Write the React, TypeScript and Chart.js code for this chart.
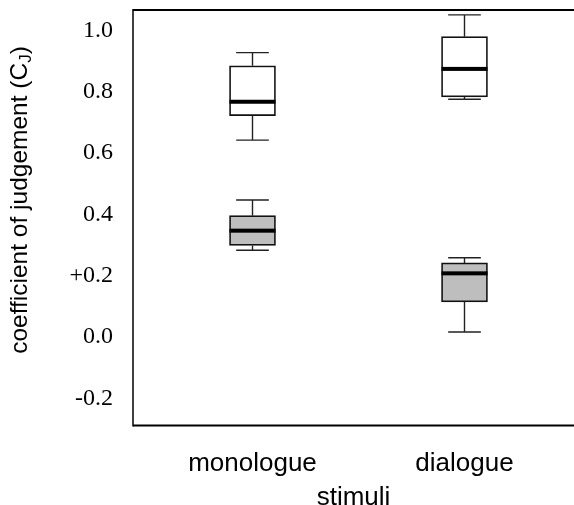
import { useEffect, useRef } from 'react';
import { Chart, registerables } from 'chart.js';

Chart.register(...registerables);

// ---- data ----
const CATEGORIES = ['monologue', 'dialogue'];
const CATEGORY_X = [1, 2];

const WHITE_MIN = [0.642, 0.775];
const WHITE_Q1 = [0.722, 0.783];
const WHITE_MEDIAN = [0.767, 0.874];
const WHITE_Q3 = [0.884, 0.979];
const WHITE_MAX = [0.927, 1.05];

const GRAY_MIN = [0.283, 0.017];
const GRAY_Q1 = [0.299, 0.115];
const GRAY_MEDIAN = [0.347, 0.208];
const GRAY_Q3 = [0.396, 0.242];
const GRAY_MAX = [0.447, 0.259];

const Y_TICKS = [-0.2, 0, 0.2, 0.4, 0.6, 0.8, 1.0];
const Y_TICK_LABELS = ['-0.2', '0.0', '+0.2', '0.4', '0.6', '0.8', '1.0'];
const Y_MIN = -0.2877;
const Y_MAX = 1.0659;
const X_MIN = 0.4363;
const X_MAX = 2.5165;

const Y_TITLE = 'coefficient of judgement (C';
const Y_TITLE_SUB = 'J';
const Y_TITLE_END = ')';
const X_TITLE = 'stimuli';

const STATS = [
  { min: GRAY_MIN, q1: GRAY_Q1, median: GRAY_MEDIAN, q3: GRAY_Q3, max: GRAY_MAX },
  { min: WHITE_MIN, q1: WHITE_Q1, median: WHITE_MEDIAN, q3: WHITE_Q3, max: WHITE_MAX },
];

const SANS = '"Liberation Sans", Arial, sans-serif';
const SERIF = '"Liberation Serif", "Times New Roman", serif';

const makeBoxes = (q1: number[], q3: number[]) =>
  CATEGORY_X.map((x, i) => ({ x, y: [q1[i], q3[i]] }));

const whiskerPlugin = {
  id: 'whiskers',
  afterDatasetsDraw(chart: any) {
    const { ctx } = chart;
    const ys = chart.scales.y;
    chart.data.datasets.forEach((_ds: any, di: number) => {
      const meta = chart.getDatasetMeta(di);
      const st = STATS[di];
      meta.data.forEach((bar: any, i: number) => {
        const { x, width } = bar.getProps(['x', 'width'], true);
        const yMin = ys.getPixelForValue(st.min[i]);
        const yQ1 = ys.getPixelForValue(st.q1[i]);
        const yMed = ys.getPixelForValue(st.median[i]);
        const yQ3 = ys.getPixelForValue(st.q3[i]);
        const yMax = ys.getPixelForValue(st.max[i]);
        const cap = width * 0.355;
        ctx.save();
        ctx.strokeStyle = '#222';
        ctx.lineWidth = 1.4;
        ctx.beginPath();
        ctx.moveTo(x, yQ3);
        ctx.lineTo(x, yMax);
        ctx.moveTo(x, yQ1);
        ctx.lineTo(x, yMin);
        ctx.moveTo(x - cap, yMax);
        ctx.lineTo(x + cap, yMax);
        ctx.moveTo(x - cap, yMin);
        ctx.lineTo(x + cap, yMin);
        ctx.stroke();
        ctx.fillStyle = '#000';
        ctx.fillRect(x - width / 2, yMed - 2, width, 4);
        ctx.restore();
      });
    });
  },
};

const framePlugin = {
  id: 'frame',
  afterDraw(chart: any) {
    const { ctx, chartArea, width } = chart;
    const { left, top, bottom } = chartArea;
    ctx.save();
    ctx.strokeStyle = '#000';
    ctx.lineWidth = 2;
    ctx.beginPath();
    ctx.moveTo(left, top);
    ctx.lineTo(width, top);
    ctx.moveTo(left, bottom);
    ctx.lineTo(width, bottom);
    ctx.stroke();
    ctx.lineWidth = 1.5;
    ctx.beginPath();
    ctx.moveTo(left, top - 1);
    ctx.lineTo(left, bottom + 1);
    ctx.stroke();
    ctx.restore();
  },
};

const yTitlePlugin = {
  id: 'yTitle',
  afterDraw(chart: any) {
    const { ctx } = chart;
    const size = 24.5;
    const subSize = 17;
    ctx.save();
    ctx.fillStyle = '#000';
    ctx.font = `${size}px ${SANS}`;
    const w1 = ctx.measureText(Y_TITLE).width;
    const w3 = ctx.measureText(Y_TITLE_END).width;
    ctx.font = `${subSize}px ${SANS}`;
    const w2 = ctx.measureText(Y_TITLE_SUB).width;
    const total = w1 + w2 + w3;
    ctx.translate(27, 200);
    ctx.rotate(-Math.PI / 2);
    ctx.textBaseline = 'alphabetic';
    ctx.textAlign = 'left';
    let x = -total / 2;
    ctx.font = `${size}px ${SANS}`;
    ctx.fillText(Y_TITLE, x, 0);
    x += w1;
    ctx.font = `${subSize}px ${SANS}`;
    ctx.fillText(Y_TITLE_SUB, x, 4);
    x += w2;
    ctx.font = `${size}px ${SANS}`;
    ctx.fillText(Y_TITLE_END, x, 0);
    ctx.restore();
  },
};

export default function App() {
  const ref = useRef<HTMLCanvasElement>(null);

  useEffect(() => {
    if (!ref.current) return;
    const chart = new Chart(ref.current, {
      type: 'bar',
      data: {
        datasets: [
          {
            label: 'gray',
            data: makeBoxes(GRAY_Q1, GRAY_Q3) as any,
            backgroundColor: '#bebebe',
            borderColor: '#111',
            borderWidth: 1.7,
            borderSkipped: false,
            barThickness: 46,
            grouped: false,
          } as any,
          {
            label: 'white',
            data: makeBoxes(WHITE_Q1, WHITE_Q3) as any,
            backgroundColor: '#ffffff',
            borderColor: '#111',
            borderWidth: 1.7,
            borderSkipped: false,
            barThickness: 46,
            grouped: false,
          } as any,
        ],
      },
      options: {
        animation: false,
        responsive: false,
        events: [],
        layout: { padding: { top: 10, left: 0, right: 0, bottom: 0 } },
        plugins: {
          legend: { display: false },
          tooltip: { enabled: false },
        },
        scales: {
          x: {
            type: 'linear',
            min: X_MIN,
            max: X_MAX,
            offset: false,
            grid: { display: false, drawTicks: false },
            border: { display: false },
            afterBuildTicks: (scale: any) => {
              scale.ticks = CATEGORY_X.map((v) => ({ value: v }));
            },
            afterFit: (scale: any) => {
              scale.height = 79.5;
              scale.paddingLeft = 0;
              scale.paddingRight = 0;
            },
            ticks: {
              autoSkip: false,
              maxRotation: 0,
              padding: 23,
              color: '#000',
              font: { family: SANS, size: 26 },
              callback: (_v: any, i: number) => CATEGORIES[i],
            },
            title: {
              display: true,
              text: X_TITLE,
              color: '#000',
              font: { family: SANS, size: 26, lineHeight: 1.2 },
              padding: { top: 0, bottom: -8 },
            },
          },
          y: {
            type: 'linear',
            min: Y_MIN,
            max: Y_MAX,
            grid: { display: false, drawTicks: false },
            border: { display: false },
            afterBuildTicks: (scale: any) => {
              scale.ticks = Y_TICKS.map((v) => ({ value: v }));
            },
            afterFit: (scale: any) => {
              scale.width = 133;
              scale.paddingTop = 0;
              scale.paddingBottom = 0;
            },
            ticks: {
              padding: 20,
              color: '#000',
              font: { family: SERIF, size: 24 },
              callback: (_v: any, i: number) => Y_TICK_LABELS[i],
            },
          },
        },
      } as any,
      plugins: [whiskerPlugin, framePlugin, yTitlePlugin],
    });
    return () => chart.destroy();
  }, []);

  return (
    <div style={{ position: 'absolute', left: 0, top: 0, width: 574, height: 505, background: '#fff' }}>
      <canvas ref={ref} width={574} height={505} style={{ display: 'block' }} />
    </div>
  );
}
